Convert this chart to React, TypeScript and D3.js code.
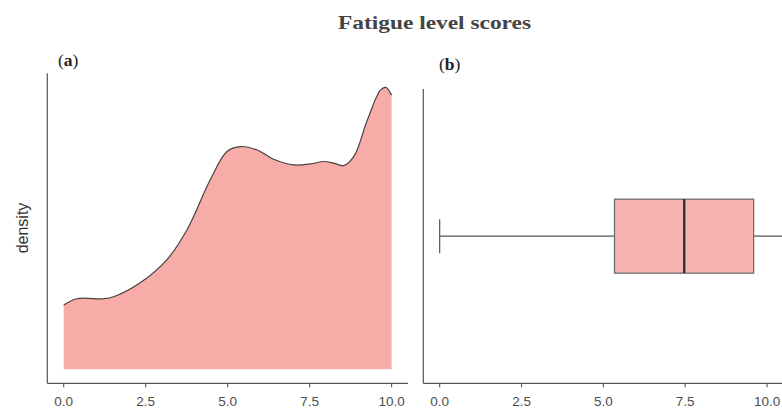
import React from "react";
import * as d3 from "d3";

const densityX = [0, 0.4, 1.21, 1.52, 2.33, 3.15, 3.76, 4.47, 4.98, 5.39, 5.9, 6.4, 7.02, 7.53, 7.93, 8.24, 8.54, 8.85, 9.26, 9.66, 9.82, 10];
const densityY = [0.0455, 0.05, 0.05, 0.0514, 0.0613, 0.0778, 0.099, 0.1344, 0.1545, 0.158, 0.1556, 0.149, 0.145, 0.1457, 0.1474, 0.1462, 0.1445, 0.151, 0.1768, 0.198, 0.2, 0.1945];
const boxStats = { min: 0, q1: 5.34, median: 7.47, q3: 9.59, max: 10.6 };
const xTicks = [0, 2.5, 5, 7.5, 10];
const title = "Fatigue level scores";

export default function App() {
  const W = 782, H = 412;
  const axisBottom = 383.3;
  const tickColor = "#555";
  const textColor = "#4d4d4d";

  const xA = d3.scaleLinear().domain([-0.5, 10.5]).range([47.3, 408]);
  const yMax = d3.max(densityY) as number;
  const yA = d3.scaleLinear().domain([-0.05 * yMax, 1.05 * yMax]).range([axisBottom, 73.3]);
  const pts = densityX.map((x, i) => [x, densityY[i]] as [number, number]);
  const area = d3.area<[number, number]>()
    .x((d) => xA(d[0]))
    .y0(yA(0))
    .y1((d) => yA(d[1]))
    .curve(d3.curveCatmullRom.alpha(0.5));
  const line = d3.line<[number, number]>()
    .x((d) => xA(d[0]))
    .y((d) => yA(d[1]))
    .curve(d3.curveCatmullRom.alpha(0.5));

  const xB = d3.scaleLinear().domain([-0.5, 10.5]).range([423.3, 423.3 + 11 * 32.74]);
  const yB = d3.scaleLinear().domain([0.5, 1.5]).range([axisBottom, 89]);
  const cy = yB(1);
  const boxHalf = 37;
  const capHalf = 17;

  const ticks = (sc: d3.ScaleLinear<number, number>, key: string) =>
    xTicks.map((t) => (
      <g key={key + t}>
        <line x1={sc(t)} x2={sc(t)} y1={axisBottom} y2={axisBottom + 4} stroke={tickColor} strokeWidth={1.1} />
        <text x={sc(t)} y={406} textAnchor="middle" fontFamily="Liberation Sans, Arial, sans-serif" fontSize={13.5} fill={textColor}>
          {t.toFixed(1)}
        </text>
      </g>
    ));

  return (
    <svg width={W} height={H} style={{ position: "absolute", left: 0, top: 0, background: "#fff" }}>
      <text x={338} y={29} textLength={193} lengthAdjust="spacingAndGlyphs" fontFamily="Liberation Serif, serif" fontWeight="bold" fontSize={19} fill="#444">
        {title}
      </text>

      {/* Panel a */}
      <text x={58} y={66} fontFamily="Liberation Serif, serif" fontSize={17.5} fill="#222">
        (<tspan fontWeight="bold">a</tspan>)
      </text>
      <path d={area(pts) || ""} fill="#F8ACA7" />
      <path d={line(pts) || ""} fill="none" stroke="#444" strokeWidth={1.2} />
      <line x1={xA(-0.5)} x2={xA(-0.5)} y1={73.3} y2={axisBottom} stroke={tickColor} strokeWidth={1.2} />
      <line x1={xA(-0.5)} x2={xA(10.5)} y1={axisBottom} y2={axisBottom} stroke={tickColor} strokeWidth={1.2} />
      {ticks(xA, "a")}
      <text transform={`translate(28,228) rotate(-90)`} textAnchor="middle" fontFamily="Liberation Sans, Arial, sans-serif" fontSize={16} fill="#333">
        density
      </text>

      {/* Panel b */}
      <text x={439} y={70} fontFamily="Liberation Serif, serif" fontSize={17.5} fill="#222">
        (<tspan fontWeight="bold">b</tspan>)
      </text>
      <line x1={xB(boxStats.min)} x2={xB(boxStats.q1)} y1={cy} y2={cy} stroke="#555" strokeWidth={1.2} />
      <line x1={xB(boxStats.q3)} x2={xB(boxStats.max)} y1={cy} y2={cy} stroke="#555" strokeWidth={1.2} />
      <line x1={xB(boxStats.min)} x2={xB(boxStats.min)} y1={cy - capHalf} y2={cy + capHalf} stroke="#555" strokeWidth={1.2} />
      <line x1={xB(boxStats.max)} x2={xB(boxStats.max)} y1={cy - capHalf} y2={cy + capHalf} stroke="#555" strokeWidth={1.2} />
      <rect x={xB(boxStats.q1)} y={cy - boxHalf} width={xB(boxStats.q3) - xB(boxStats.q1)} height={2 * boxHalf} fill="#F8B4B0" stroke="#666" strokeWidth={1.2} />
      <line x1={xB(boxStats.median)} x2={xB(boxStats.median)} y1={cy - boxHalf} y2={cy + boxHalf} stroke="#333" strokeWidth={2.4} />
      <line x1={xB(-0.5)} x2={xB(-0.5)} y1={89} y2={axisBottom} stroke={tickColor} strokeWidth={1.2} />
      <line x1={xB(-0.5)} x2={xB(10.5)} y1={axisBottom} y2={axisBottom} stroke={tickColor} strokeWidth={1.2} />
      {ticks(xB, "b")}
    </svg>
  );
}
